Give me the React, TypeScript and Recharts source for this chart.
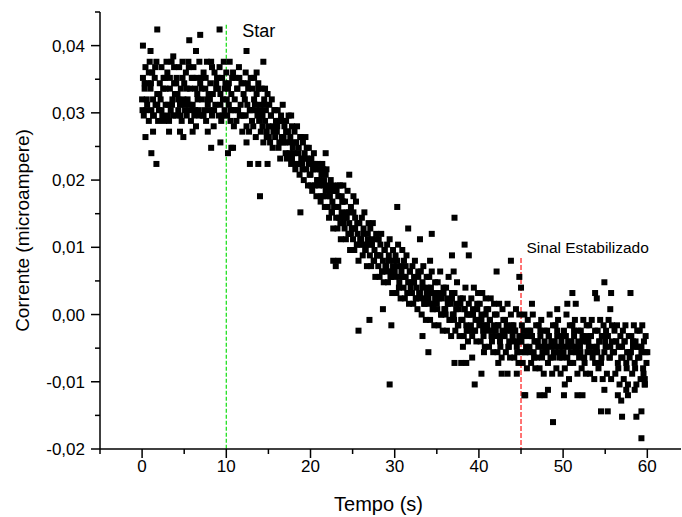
import { Label, ReferenceLine, Scatter, ScatterChart, XAxis, YAxis } from "recharts";

const FONT = '"Liberation Sans", Arial, sans-serif';

// [tempo (s), corrente (x 0,001 microampere)]
const flatStart: [number, number][] = [
  [0.0, 32.0], [0.1, 35.2], [0.2, 29.6], [0.3, 33.6], [0.4, 36.8], [0.5, 30.4], [0.6, 31.2], [0.7, 34.4], [0.8, 28.8], [0.9, 37.6],
  [1.0, 33.6], [1.1, 30.4], [1.2, 36.0], [1.3, 32.0], [1.4, 29.6], [1.5, 35.2], [1.6, 31.2], [1.7, 37.6], [1.8, 32.8], [1.9, 28.8],
  [2.0, 30.4], [2.1, 34.4], [2.2, 32.0], [2.3, 36.8], [2.4, 29.6], [2.5, 33.6], [2.6, 28.8], [2.7, 35.2], [2.8, 31.2], [2.9, 37.6],
  [3.0, 36.0], [3.1, 31.2], [3.2, 28.8], [3.3, 33.6], [3.4, 30.4], [3.5, 37.6], [3.6, 32.0], [3.7, 29.6], [3.8, 34.4], [3.9, 32.8],
  [4.0, 29.6], [4.1, 35.2], [4.2, 32.8], [4.3, 30.4], [4.4, 36.8], [4.5, 31.2], [4.6, 33.6], [4.7, 28.8], [4.8, 37.6], [4.9, 32.0],
  [5.0, 34.4], [5.1, 30.4], [5.2, 36.0], [5.3, 29.6], [5.4, 32.0], [5.5, 37.6], [5.6, 31.2], [5.7, 33.6], [5.8, 28.8], [5.9, 35.2],
  [6.0, 31.2], [6.1, 36.8], [6.2, 29.6], [6.3, 33.6], [6.4, 28.0], [6.5, 35.2], [6.6, 32.0], [6.7, 30.4], [6.8, 37.6], [6.9, 34.4],
  [7.0, 35.2], [7.1, 32.0], [7.2, 29.6], [7.3, 36.0], [7.4, 30.4], [7.5, 33.6], [7.6, 28.8], [7.7, 37.6], [7.8, 31.2], [7.9, 32.8],
  [8.0, 30.4], [8.1, 34.4], [8.2, 37.6], [8.3, 29.6], [8.4, 32.8], [8.5, 28.0], [8.6, 36.0], [8.7, 31.2], [8.8, 33.6], [8.9, 35.2],
  [9.0, 33.6], [9.1, 29.6], [9.2, 36.8], [9.3, 31.2], [9.4, 28.8], [9.5, 35.2], [9.6, 32.0], [9.7, 37.6], [9.8, 30.4], [9.9, 34.4],
];

const dropEarly: [number, number][] = [
  [10.0, 36.0], [10.1, 29.6], [10.2, 33.6], [10.3, 31.2], [10.4, 37.6], [10.5, 28.8], [10.6, 32.8], [10.7, 35.2], [10.8, 30.4], [10.9, 28.0],
  [11.0, 32.0], [11.1, 35.2], [11.2, 28.8], [11.3, 33.6], [11.4, 30.4], [11.5, 36.8], [11.6, 29.6], [11.7, 31.2], [11.8, 34.4], [11.9, 27.2],
  [12.0, 34.4], [12.1, 29.6], [12.2, 32.0], [12.3, 36.0], [12.4, 28.0], [12.5, 31.2], [12.6, 33.6], [12.7, 27.2], [12.8, 30.4], [12.9, 35.2],
  [13.0, 30.4], [13.1, 33.6], [13.2, 28.0], [13.3, 35.2], [13.4, 31.2], [13.5, 26.4], [13.6, 32.8], [13.7, 29.6], [13.8, 34.4], [13.9, 28.8],
  [14.0, 31.2], [14.1, 27.2], [14.2, 33.6], [14.3, 29.6], [14.4, 25.6], [14.5, 32.0], [14.6, 28.8], [14.7, 30.4], [14.8, 26.4], [14.9, 32.8],
  [15.0, 28.0], [15.1, 31.2], [15.2, 25.6], [15.3, 29.6], [15.4, 32.0], [15.5, 24.8], [15.6, 27.2], [15.7, 30.4], [15.8, 26.4], [15.9, 28.8],
  [16.0, 27.2], [16.1, 30.4], [16.2, 24.8], [16.3, 28.8], [16.4, 23.2], [16.5, 29.6], [16.6, 26.4], [16.7, 31.2], [16.8, 25.6], [16.9, 28.0],
  [17.0, 25.6], [17.1, 28.8], [17.2, 23.2], [17.3, 27.2], [17.4, 29.6], [17.5, 24.0], [17.6, 26.4], [17.7, 22.4], [17.8, 28.0], [17.9, 24.8],
  [18.0, 24.0], [18.1, 27.2], [18.2, 21.6], [18.3, 25.6], [18.4, 28.0], [18.5, 22.4], [18.6, 24.8], [18.7, 20.8], [18.8, 26.4], [18.9, 23.2],
  [19.0, 22.4], [19.1, 25.6], [19.2, 20.0], [19.3, 24.0], [19.4, 26.4], [19.5, 21.6], [19.6, 23.2], [19.7, 19.2], [19.8, 24.8], [19.9, 20.8],
  [20.0, 20.8], [20.1, 23.2], [20.2, 18.4], [20.3, 22.4], [20.4, 24.0], [20.5, 19.2], [20.6, 21.6], [20.7, 17.6], [20.8, 20.0], [20.9, 22.4],
  [21.0, 19.2], [21.1, 21.6], [21.2, 16.8], [21.3, 20.8], [21.4, 22.4], [21.5, 17.6], [21.6, 20.0], [21.7, 16.0], [21.8, 18.4], [21.9, 21.6],
];

const dropMid: [number, number][] = [
  [22.0, 17.6], [22.1, 19.2], [22.2, 14.4], [22.3, 18.4], [22.4, 20.0], [22.5, 15.2], [22.6, 16.8], [22.7, 12.8], [22.8, 16.0], [22.9, 18.4],
  [23.0, 16.0], [23.1, 18.4], [23.2, 12.8], [23.3, 17.6], [23.4, 14.4], [23.5, 19.2], [23.6, 11.2], [23.7, 15.2], [23.8, 16.8], [23.9, 13.6],
  [24.0, 14.4], [24.1, 16.8], [24.2, 11.2], [24.3, 15.2], [24.4, 18.4], [24.5, 12.0], [24.6, 13.6], [24.7, 9.6], [24.8, 16.0], [24.9, 12.8],
  [25.0, 12.8], [25.1, 15.2], [25.2, 9.6], [25.3, 14.4], [25.4, 16.8], [25.5, 10.4], [25.6, 12.0], [25.7, 8.0], [25.8, 13.6], [25.9, 11.2],
  [26.0, 11.2], [26.1, 14.4], [26.2, 8.8], [26.3, 12.8], [26.4, 15.2], [26.5, 9.6], [26.6, 10.4], [26.7, 7.2], [26.8, 12.0], [26.9, 13.6],
  [27.0, 10.4], [27.1, 12.8], [27.2, 7.2], [27.3, 11.2], [27.4, 13.6], [27.5, 8.0], [27.6, 9.6], [27.7, 5.6], [27.8, 12.0], [27.9, 8.8],
  [28.0, 8.8], [28.1, 11.2], [28.2, 5.6], [28.3, 10.4], [28.4, 12.0], [28.5, 6.4], [28.6, 8.0], [28.7, 4.8], [28.8, 9.6], [28.9, 7.2],
  [29.0, 7.2], [29.1, 10.4], [29.2, 4.8], [29.3, 8.8], [29.4, 11.2], [29.5, 5.6], [29.6, 6.4], [29.7, 3.2], [29.8, 9.6], [29.9, 8.0],
  [30.0, 6.4], [30.1, 8.8], [30.2, 3.2], [30.3, 8.0], [30.4, 10.4], [30.5, 4.0], [30.6, 5.6], [30.7, 2.4], [30.8, 7.2], [30.9, 9.6],
  [31.0, 5.6], [31.1, 8.0], [31.2, 2.4], [31.3, 7.2], [31.4, 8.8], [31.5, 3.2], [31.6, 4.8], [31.7, 1.6], [31.8, 6.4], [31.9, 4.0],
  [32.0, 4.8], [32.1, 7.2], [32.2, 1.6], [32.3, 5.6], [32.4, 8.0], [32.5, 2.4], [32.6, 4.0], [32.7, 0.8], [32.8, 6.4], [32.9, 3.2],
  [33.0, 3.2], [33.1, 6.4], [33.2, 0.0], [33.3, 4.8], [33.4, 7.2], [33.5, 1.6], [33.6, 2.4], [33.7, -0.8], [33.8, 5.6], [33.9, 4.0],
];

const dropLate: [number, number][] = [
  [34.0, 2.4], [34.1, 5.6], [34.2, -0.8], [34.3, 4.0], [34.4, 6.4], [34.5, 0.8], [34.6, 1.6], [34.7, -1.6], [34.8, 4.8], [34.9, 3.2],
  [35.0, 1.6], [35.1, 4.8], [35.2, -1.6], [35.3, 3.2], [35.4, 6.4], [35.5, 0.0], [35.6, 2.4], [35.7, -2.4], [35.8, 4.0], [35.9, 0.8],
  [36.0, 0.8], [36.1, 4.0], [36.2, -2.4], [36.3, 2.4], [36.4, 5.6], [36.5, -0.8], [36.6, 1.6], [36.7, -3.2], [36.8, 3.2], [36.9, 0.0],
  [37.0, 0.0], [37.1, 3.2], [37.2, -2.4], [37.3, 1.6], [37.4, 4.8], [37.5, -1.6], [37.6, 0.8], [37.7, -3.2], [37.8, 2.4], [37.9, -0.8],
  [38.0, -0.8], [38.1, 2.4], [38.2, -3.2], [38.3, 0.8], [38.4, 4.0], [38.5, -1.6], [38.6, 0.0], [38.7, -4.0], [38.8, 1.6], [38.9, -2.4],
  [39.0, 0.0], [39.1, 2.4], [39.2, -3.2], [39.3, 0.8], [39.4, 4.0], [39.5, -2.4], [39.6, -0.8], [39.7, -4.0], [39.8, 1.6], [39.9, 3.2],
  [40.0, -0.8], [40.1, 1.6], [40.2, -4.0], [40.3, 0.0], [40.4, 3.2], [40.5, -2.4], [40.6, -1.6], [40.7, -4.8], [40.8, 2.4], [40.9, 0.8],
  [41.0, -1.6], [41.1, 0.8], [41.2, -4.8], [41.3, -0.8], [41.4, 2.4], [41.5, -3.2], [41.6, -2.4], [41.7, -5.6], [41.8, 1.6], [41.9, 0.0],
  [42.0, -2.4], [42.1, 0.0], [42.2, -5.6], [42.3, -1.6], [42.4, 1.6], [42.5, -4.0], [42.6, -3.2], [42.7, -6.4], [42.8, 0.8], [42.9, -0.8],
  [43.0, -3.2], [43.1, -0.8], [43.2, -5.6], [43.3, -2.4], [43.4, 1.6], [43.5, -4.8], [43.6, -4.0], [43.7, -6.4], [43.8, 0.0], [43.9, -1.6],
  [44.0, -3.2], [44.1, -1.6], [44.2, -6.4], [44.3, -2.4], [44.4, 0.8], [44.5, -4.8], [44.6, -4.0], [44.7, -7.2], [44.8, 0.0], [44.9, -5.6],
];

const settled: [number, number][] = [
  [45.0, -4.0], [45.1, -1.6], [45.2, -7.2], [45.3, -3.2], [45.4, 0.0], [45.5, -5.6], [45.6, -4.8], [45.7, -8.0], [45.8, -0.8], [45.9, -2.4],
  [46.0, -4.8], [46.1, -2.4], [46.2, -7.2], [46.3, -3.2], [46.4, 0.0], [46.5, -5.6], [46.6, -4.0], [46.7, -8.0], [46.8, -1.6], [46.9, -6.4],
  [47.0, -4.0], [47.1, -1.6], [47.2, -8.0], [47.3, -3.2], [47.4, -0.8], [47.5, -6.4], [47.6, -4.8], [47.7, -8.8], [47.8, -2.4], [47.9, -5.6],
  [48.0, -4.8], [48.1, -2.4], [48.2, -7.2], [48.3, -3.2], [48.4, 0.0], [48.5, -6.4], [48.6, -4.0], [48.7, -8.8], [48.8, -1.6], [48.9, -5.6],
  [49.0, -4.0], [49.1, -1.6], [49.2, -8.0], [49.3, -2.4], [49.4, -0.8], [49.5, -5.6], [49.6, -4.8], [49.7, -8.8], [49.8, -3.2], [49.9, -6.4],
  [50.0, -4.8], [50.1, -2.4], [50.2, -8.0], [50.3, -3.2], [50.4, 0.0], [50.5, -6.4], [50.6, -4.0], [50.7, -9.6], [50.8, -1.6], [50.9, -5.6],
  [51.0, -4.0], [51.1, -1.6], [51.2, -7.2], [51.3, -3.2], [51.4, -0.8], [51.5, -5.6], [51.6, -4.8], [51.7, -8.8], [51.8, -2.4], [51.9, -6.4],
  [52.0, -4.8], [52.1, -2.4], [52.2, -8.0], [52.3, -4.0], [52.4, -0.8], [52.5, -6.4], [52.6, -3.2], [52.7, -8.8], [52.8, -1.6], [52.9, -5.6],
  [53.0, -4.0], [53.1, -1.6], [53.2, -8.8], [53.3, -3.2], [53.4, -0.8], [53.5, -6.4], [53.6, -4.8], [53.7, -9.6], [53.8, -2.4], [53.9, -5.6],
  [54.0, -4.8], [54.1, -2.4], [54.2, -8.0], [54.3, -4.0], [54.4, -0.8], [54.5, -7.2], [54.6, -3.2], [54.7, -9.6], [54.8, -1.6], [54.9, -5.6],
  [55.0, -4.0], [55.1, -2.4], [55.2, -8.8], [55.3, -3.2], [55.4, -0.8], [55.5, -6.4], [55.6, -4.8], [55.7, -9.6], [55.8, -1.6], [55.9, -5.6],
  [56.0, -5.6], [56.1, -2.4], [56.2, -8.8], [56.3, -4.0], [56.4, -1.6], [56.5, -7.2], [56.6, -4.8], [56.7, -10.4], [56.8, -3.2], [56.9, -6.4],
  [57.0, -4.8], [57.1, -2.4], [57.2, -9.6], [57.3, -4.0], [57.4, -1.6], [57.5, -7.2], [57.6, -5.6], [57.7, -10.4], [57.8, -3.2], [57.9, -6.4],
  [58.0, -5.6], [58.1, -3.2], [58.2, -8.8], [58.3, -4.8], [58.4, -1.6], [58.5, -7.2], [58.6, -4.0], [58.7, -10.4], [58.8, -2.4], [58.9, -6.4],
  [59.0, -4.8], [59.1, -2.4], [59.2, -9.6], [59.3, -5.6], [59.4, -1.6], [59.5, -8.0], [59.6, -4.0], [59.7, -10.4], [59.8, -3.2], [59.9, -7.2],
  [60.0, -5.6],
];

// extra readings in the core of the band, between the ones above
const fillIn: [number, number][] = [
  [0.05, 30.4], [0.3, 34.4], [0.55, 32.0], [0.8, 36.0], [1.05, 34.4], [1.3, 29.6], [1.55, 36.8], [1.8, 31.2],
  [2.05, 32.8], [2.3, 30.4], [2.55, 35.2], [2.8, 33.6], [3.05, 29.6], [3.3, 35.2], [3.55, 31.2], [3.8, 36.8],
  [4.05, 34.4], [4.3, 32.0], [4.55, 29.6], [4.8, 35.2], [5.05, 31.2], [5.3, 33.6], [5.55, 36.8], [5.8, 30.4],
  [6.05, 35.2], [6.3, 30.4], [6.55, 32.8], [6.8, 29.6], [7.05, 33.6], [7.3, 29.6], [7.55, 35.2], [7.8, 32.0],
  [8.05, 32.0], [8.3, 36.8], [8.55, 30.4], [8.8, 34.4], [9.05, 35.2], [9.3, 32.8], [9.55, 29.6], [9.8, 33.6],
  [10.05, 32.0], [10.3, 34.4], [10.55, 30.4], [10.8, 36.0], [11.05, 30.4], [11.3, 33.6], [11.55, 35.2], [11.8, 29.6],
  [12.05, 32.8], [12.3, 29.6], [12.55, 34.4], [12.8, 30.4], [13.05, 28.8], [13.3, 32.0], [13.55, 30.4], [13.8, 33.6],
  [14.05, 30.4], [14.3, 28.0], [14.55, 31.2], [14.8, 27.2], [15.05, 26.4], [15.3, 29.6], [15.55, 28.0], [15.8, 30.4],
  [16.05, 28.0], [16.3, 25.6], [16.55, 28.8], [16.8, 26.4], [17.05, 24.0], [17.3, 27.2], [17.55, 25.6], [17.8, 23.2],
  [18.05, 25.6], [18.3, 22.4], [18.55, 24.0], [18.8, 26.4], [19.05, 21.6], [19.3, 23.2], [19.55, 24.8], [19.8, 22.4],
  [20.05, 19.2], [20.3, 21.6], [20.55, 22.4], [20.8, 20.0], [21.05, 20.0], [21.3, 17.6], [21.55, 19.2], [21.8, 20.8],
  [22.05, 16.0], [22.3, 17.6], [22.55, 15.2], [22.8, 18.4], [23.05, 14.4], [23.3, 16.0], [23.55, 13.6], [23.8, 16.8],
  [24.05, 12.8], [24.3, 14.4], [24.55, 15.2], [24.8, 12.0], [25.05, 11.2], [25.3, 12.8], [25.55, 13.6], [25.8, 10.4],
  [26.05, 10.4], [26.3, 12.0], [26.55, 9.6], [26.8, 11.2], [27.05, 8.8], [27.3, 10.4], [27.55, 8.0], [27.8, 11.2],
  [28.05, 7.2], [28.3, 8.8], [28.55, 6.4], [28.8, 9.6], [29.05, 6.4], [29.3, 8.0], [29.55, 5.6], [29.8, 7.2],
  [30.05, 5.6], [30.3, 7.2], [30.55, 4.8], [30.8, 6.4], [31.05, 4.0], [31.3, 5.6], [31.55, 3.2], [31.8, 6.4],
  [32.05, 3.2], [32.3, 4.8], [32.55, 2.4], [32.8, 5.6], [33.05, 2.4], [33.3, 4.0], [33.55, 1.6], [33.8, 3.2],
  [34.05, 1.6], [34.3, 3.2], [34.55, 0.8], [34.8, 2.4], [35.05, 0.8], [35.3, 2.4], [35.55, 0.0], [35.8, 3.2],
  [36.05, 0.0], [36.3, 1.6], [36.55, -0.8], [36.8, 2.4], [37.05, -0.8], [37.3, 0.8], [37.55, -1.6], [37.8, 1.6],
  [38.05, -0.8], [38.3, 0.8], [38.55, -2.4], [38.8, 0.0], [39.05, -1.6], [39.3, 0.0], [39.55, -2.4], [39.8, 0.8],
  [40.05, -1.6], [40.3, -0.8], [40.55, -3.2], [40.8, 0.0], [41.05, -2.4], [41.3, -0.8], [41.55, -4.0], [41.8, -1.6],
  [42.05, -3.2], [42.3, -1.6], [42.55, -4.8], [42.8, -2.4], [43.05, -3.2], [43.3, -1.6], [43.55, -4.8], [43.8, -2.4],
  [44.05, -4.0], [44.3, -2.4], [44.55, -5.6], [44.8, -3.2], [45.05, -4.0], [45.3, -2.4], [45.55, -5.6], [45.8, -3.2],
  [46.05, -5.6], [46.3, -3.2], [46.55, -6.4], [46.8, -4.0], [47.05, -4.8], [47.3, -2.4], [47.55, -5.6], [47.8, -4.0],
  [48.05, -5.6], [48.3, -3.2], [48.55, -4.8], [48.8, -6.4], [49.05, -4.8], [49.3, -3.2], [49.55, -6.4], [49.8, -4.0],
  [50.05, -5.6], [50.3, -3.2], [50.55, -4.8], [50.8, -7.2], [51.05, -4.8], [51.3, -2.4], [51.55, -5.6], [51.8, -4.0],
  [52.05, -5.6], [52.3, -3.2], [52.55, -7.2], [52.8, -4.0], [53.05, -4.8], [53.3, -3.2], [53.55, -5.6], [53.8, -7.2],
  [54.05, -5.6], [54.3, -4.0], [54.55, -6.4], [54.8, -3.2], [55.05, -4.8], [55.3, -3.2], [55.55, -6.4], [55.8, -4.0],
  [56.05, -5.6], [56.3, -4.0], [56.55, -8.0], [56.8, -4.8], [57.05, -6.4], [57.3, -4.0], [57.55, -8.0], [57.8, -5.6],
  [58.05, -5.6], [58.3, -4.0], [58.55, -8.0], [58.8, -4.8], [59.05, -6.4], [59.3, -4.8], [59.55, -8.8], [59.8, -5.6],
];

// isolated points away from the main band
const strays: [number, number][] = [
  [0.1, 40.0], [1.0, 39.2], [1.8, 42.4], [3.7, 38.4], [5.6, 40.8], [6.4, 39.2], [6.9, 41.6], [9.2, 42.4],
  [0.4, 26.4], [1.1, 24.0], [1.3, 27.2], [1.7, 22.4], [3.2, 27.2], [4.5, 27.2], [4.9, 26.4], [6.0, 27.2], [7.8, 27.2], [8.2, 24.8], [9.3, 25.6],
  [10.2, 24.0], [10.6, 24.8], [10.8, 24.8], [12.4, 39.2], [12.4, 25.6], [12.8, 22.4], [13.6, 36.0], [13.8, 22.4], [14.0, 17.6], [14.4, 37.6],
  [14.6, 33.6], [14.9, 22.4], [17.1, 27.2], [17.7, 29.6], [18.8, 15.2], [21.5, 21.6], [21.8, 24.0],
  [22.7, 19.2], [23.3, 19.2], [23.9, 19.2], [24.6, 20.8], [23.7, 17.6], [25.1, 17.6], [22.7, 8.0], [23.3, 8.0], [23.0, 7.2], [25.7, -2.4],
  [27.0, -0.8], [28.6, 0.8], [29.4, -10.4], [29.6, -1.6], [30.3, 16.0], [31.6, 12.8], [33.0, 11.2], [33.3, -3.2],
  [34.0, -5.6], [34.2, 8.0], [34.4, 12.0], [36.8, 8.8], [37.0, 6.4], [37.1, 14.4], [37.1, -7.2], [37.9, -7.2], [38.1, -4.8], [38.3, 10.4],
  [38.5, -7.2], [38.8, 8.8], [39.2, -6.4], [39.5, -10.4], [40.3, -8.8], [40.6, -5.6], [42.1, 6.4], [42.3, -7.2], [42.7, -8.8], [43.4, -8.8],
  [43.8, 8.0], [44.5, -8.8], [44.8, 5.6], [45.0, 4.0], [45.5, -12.0], [45.4, -12.0], [46.3, 1.6], [47.2, -12.0], [47.8, -12.0], [48.2, -11.2],
  [48.8, -16.0], [49.3, 0.8], [50.1, -12.0], [50.2, -10.4], [50.5, 1.6], [51.1, 3.2], [51.5, 1.6], [51.7, -12.0], [52.3, -12.0], [53.8, 3.2],
  [54.0, 2.4], [54.5, -14.4], [54.9, 4.8], [54.9, -11.2], [55.3, -14.4], [55.6, 0.8], [55.7, 3.2], [56.5, -12.0], [56.9, -12.8], [57.0, -15.2],
  [57.5, -11.2], [57.7, -12.0], [58.0, 3.2], [58.5, -11.2], [58.7, -15.2], [59.3, -14.4], [59.3, -18.4], [59.7, -9.6], [59.7, -10.4],
];

const xTicks = [-5, 0, 5, 10, 15, 20, 25, 30, 35, 40, 45, 50, 55, 60];
const yTicks = [-0.02, -0.015, -0.01, -0.005, 0, 0.005, 0.01, 0.015, 0.02, 0.025, 0.03, 0.035, 0.04, 0.045];

// annotation lines: time and top of the dashed line
const startTime = 10;
const startTop = 0.0431;
const stableTime = 45;
const stableTop = 0.0084;

const points = [...flatStart, ...dropEarly, ...dropMid, ...dropLate, ...settled, ...fillIn, ...strays].map(([t, v]) => ({
  t,
  v: v / 1000,
}));

function XTick({ x, y, payload }: any) {
  const major = payload.value % 10 === 0;
  const axisY = y - 11;
  return (
    <g>
      <line x1={x} x2={x} y1={axisY} y2={axisY + (major ? 9 : 5)} stroke="#000" strokeWidth={1.5} />
      {major && (
        <text x={x} y={y} dy="0.71em" textAnchor="middle" fontSize={17} fontFamily={FONT} fill="#000">
          {payload.value}
        </text>
      )}
    </g>
  );
}

function YTick({ x, y, payload }: any) {
  const major = Math.abs(Math.round(payload.value * 200)) % 2 === 0;
  const axisX = x + 15;
  return (
    <g>
      <line x1={axisX - (major ? 9 : 5)} x2={axisX} y1={y} y2={y} stroke="#000" strokeWidth={1.5} />
      {major && (
        <text x={x} y={y} dy="0.36em" textAnchor="end" fontSize={17} fontFamily={FONT} fill="#000">
          {payload.value.toFixed(2).replace(".", ",")}
        </text>
      )}
    </g>
  );
}

function Square({ cx, cy }: any) {
  return <rect x={cx - 3} y={cy - 3} width={6} height={6} fill="#000" />;
}

export default function App() {
  return (
    <div style={{ position: "absolute", left: 0, top: 0, background: "#fff" }}>
      <ScatterChart width={682} height={517} margin={{ top: 12, right: 1, bottom: 0, left: 0 }}>
        <XAxis
          type="number"
          dataKey="t"
          domain={[-5, 64]}
          ticks={xTicks}
          interval={0}
          height={68}
          tickSize={9}
          tickMargin={2}
          tickLine={false}
          tick={<XTick />}
          axisLine={{ stroke: "#000", strokeWidth: 1.5 }}
        >
          <Label
            content={({ viewBox }: any) => (
              <text
                x={viewBox.x + viewBox.width / 2 - 12}
                y={viewBox.y + 62}
                textAnchor="middle"
                fontSize={20}
                fontFamily={FONT}
                fill="#000"
              >
                Tempo (s)
              </text>
            )}
          />
        </XAxis>
        <YAxis
          type="number"
          dataKey="v"
          domain={[-0.02, 0.045]}
          ticks={yTicks}
          interval={0}
          width={100}
          tickSize={9}
          tickMargin={6}
          tickLine={false}
          tick={<YTick />}
          axisLine={{ stroke: "#000", strokeWidth: 1.5 }}
        >
          <Label
            content={({ viewBox }: any) => {
              const cx = viewBox.x + 29;
              const cy = viewBox.y + viewBox.height / 2;
              return (
                <text
                  x={cx}
                  y={cy}
                  transform={`rotate(-90, ${cx}, ${cy})`}
                  textAnchor="middle"
                  fontSize={19}
                  fontFamily={FONT}
                  fill="#000"
                >
                  Corrente (microampere)
                </text>
              );
            }}
          />
        </YAxis>
        <Scatter data={points} shape={<Square />} isAnimationActive={false} />
        <ReferenceLine
          segment={[
            { x: startTime, y: startTop },
            { x: startTime, y: -0.02 },
          ]}
          stroke="#22e022"
          strokeWidth={1.3}
          strokeDasharray="4 2"
          label={{
            content: ({ viewBox }: any) => (
              <text x={viewBox.x + 16} y={viewBox.y + 12} fontSize={18} fontFamily={FONT} fill="#000">
                Star
              </text>
            ),
          }}
        />
        <ReferenceLine
          segment={[
            { x: stableTime, y: stableTop },
            { x: stableTime, y: -0.02 },
          ]}
          stroke="#ff2a2a"
          strokeWidth={1.3}
          strokeDasharray="5 2"
          label={{
            content: ({ viewBox }: any) => (
              <text x={viewBox.x + 5.5} y={viewBox.y - 5} fontSize={15.5} fontFamily={FONT} fill="#000">
                Sinal Estabilizado
              </text>
            ),
          }}
        />
      </ScatterChart>
    </div>
  );
}
